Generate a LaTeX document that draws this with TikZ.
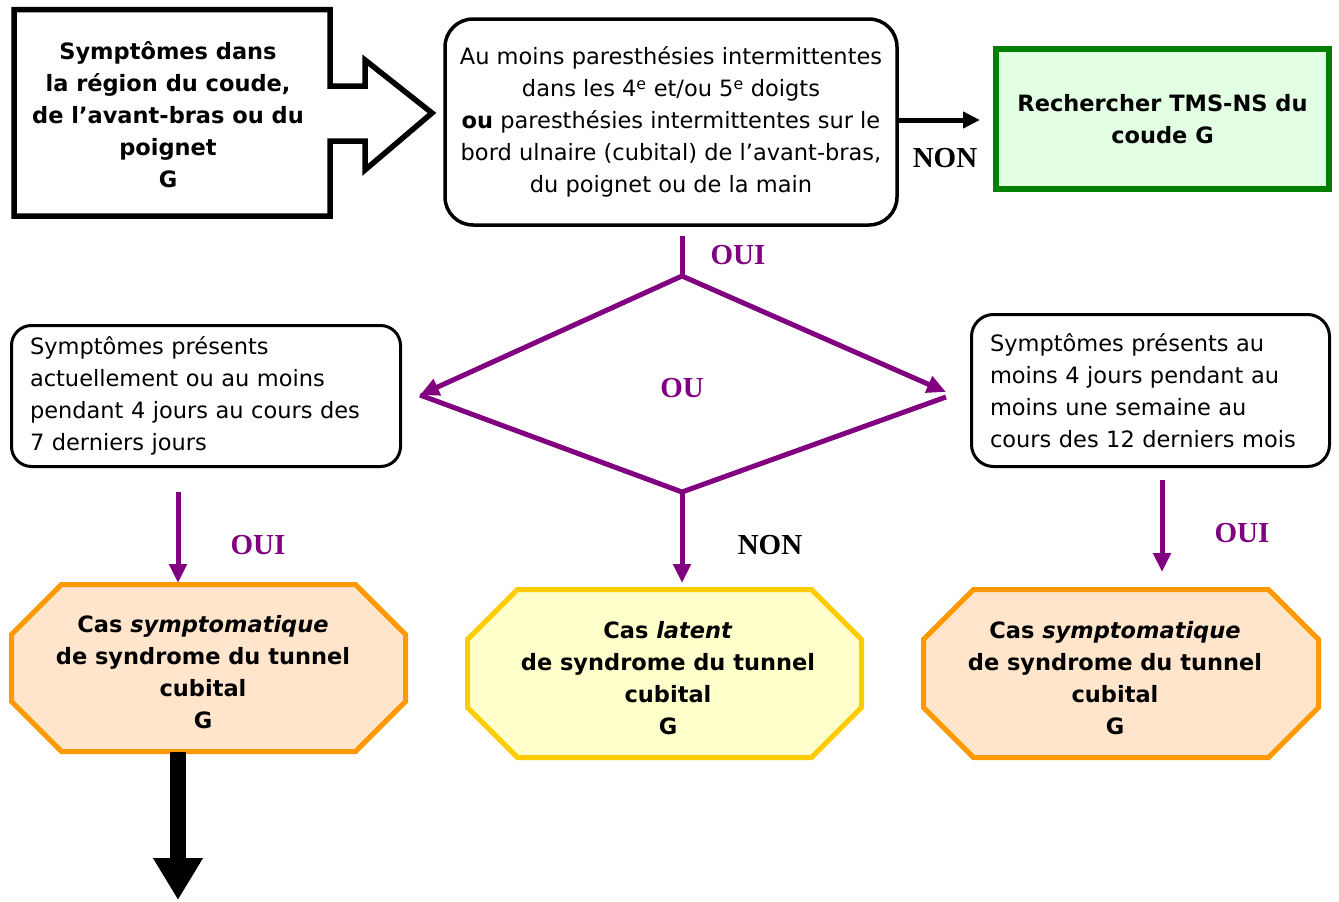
\documentclass[tikz,border=0pt]{standalone}
\usepackage{fontspec}
\setmainfont{DejaVu Sans}
\newfontfamily\lblfont{Liberation Serif}
\usetikzlibrary{arrows.meta}
\definecolor{purp}{HTML}{800080}
\definecolor{grnB}{HTML}{008000}
\definecolor{grnF}{HTML}{E3FFE3}
\definecolor{orgB}{HTML}{FF9900}
\definecolor{orgF}{HTML}{FFE5CC}
\definecolor{ylwB}{HTML}{FFCC00}
\definecolor{ylwF}{HTML}{FFFFCC}
\begin{document}
\begin{tikzpicture}[x=1pt,y=-1pt,
  txt/.style={font=\fontsize{22.5}{32}\selectfont, align=center, inner sep=0pt},
  boldtxt/.style={txt, font=\fontsize{22.5}{32}\selectfont\bfseries},
  lbl/.style={font=\lblfont\bfseries\fontsize{29}{32}\selectfont, inner sep=0pt},
  plbl/.style={lbl, text=purp},
  roundbox/.style={draw=black, line width=3.5pt, rounded corners=28pt, fill=white},
  octbox/.style={boldtxt, minimum width=394pt, minimum height=167pt},
  octorange/.style={draw=orgB, fill=orgF, line width=5pt},
  octyellow/.style={draw=ylwB, fill=ylwF, line width=5pt},
  pline/.style={draw=purp, line width=5pt},
  parr/.style={pline, -{Triangle[length=19pt,width=17pt]}},
  barr/.style={draw=black, line width=5pt, -{Triangle[length=17pt,width=16pt]}},
]
\useasboundingbox (0,0) rectangle (1339,902);

% top-left block arrow
\draw[line width=5.5pt, miter limit=10] (14,9.5) -- (330,9.5) -- (330,86) -- (365,86) -- (365,60)
  -- (432,113) -- (365,170) -- (365,141) -- (330,141) -- (330,216) -- (14,216) -- cycle;
\node[boldtxt] (S) at (168,115) {Symptômes dans\\la région du coude,\\de l’avant-bras ou du\\poignet\\G};

% top middle rounded box
\node[roundbox, txt, minimum width=452pt, minimum height=206pt] (Q) at (671,122)
  {Au moins paresthésies intermittentes\\dans les 4\textsuperscript{e} et/ou 5\textsuperscript{e} doigts\\\textbf{ou} paresthésies intermittentes sur le\\bord ulnaire (cubital) de l’avant-bras,\\du poignet ou de la main};

% green box
\node[boldtxt, draw=grnB, fill=grnF, line width=6pt, minimum width=333pt, minimum height=140pt] (G) at (1162.5,119)
  {Rechercher TMS-NS du\\coude G};

\coordinate (gIn) at (980,120);
\draw[barr] (Q.east |- gIn) -- (gIn);
\node[lbl] (non1) at (945,158) {NON};

% diamond
\coordinate (oS) at (682,236);
\coordinate (dT) at (682,276);
\coordinate (dL) at (420,395);
\coordinate (dB) at (682,492);
\coordinate (dR) at (946,392);
\coordinate (dR2) at (946,397);
\draw[pline] (oS) -- (dT);
\node[plbl] (oui0) at (738,255) {OUI};
\draw[pline, line join=round] (dL) -- (dB) -- (dR2);
\draw[parr] (dT) -- (dL);
\draw[parr] (dT) -- (dR);
\node[plbl] (ou) at (682,388) {OU};

% side boxes
\node[roundbox, rounded corners=20pt, line width=3pt, txt, align=left, text width=352pt,
  minimum width=389pt, minimum height=141pt] (A) at (206,396)
  {Symptômes présents\\actuellement ou au moins\\pendant 4 jours au cours des\\7 derniers jours};
\node[roundbox, rounded corners=22pt, line width=3pt, txt, align=left, text width=321pt,
  minimum width=358pt, minimum height=152pt] (B) at (1150.5,390.5)
  {Symptômes présents au\\moins 4 jours pendant au\\moins une semaine au\\cours des 12 derniers mois};

% octagons
\draw[octorange] (61.5,584.5) -- (355.5,584.5) -- (405.5,634.5) -- (405.5,701.5) -- (355.5,751.5)
  -- (61.5,751.5) -- (11.5,701.5) -- (11.5,634.5) -- cycle;
\node[octbox] (L) at (203,672) {Cas \textit{symptomatique}\\de syndrome du tunnel\\cubital\\G};

\draw[octyellow] (517.5,589.5) -- (811.5,589.5) -- (861.5,639.5) -- (861.5,707.5) -- (811.5,757.5)
  -- (517.5,757.5) -- (467.5,707.5) -- (467.5,639.5) -- cycle;
\node[octbox] (M) at (668,678) {Cas \textit{latent}\\de syndrome du tunnel\\cubital\\G};

\draw[octorange] (973.5,589.5) -- (1268.5,589.5) -- (1318.5,639.5) -- (1318.5,707.5) -- (1268.5,757.5)
  -- (973.5,757.5) -- (923.5,707.5) -- (923.5,639.5) -- cycle;
\node[octbox] (R) at (1115,678) {Cas \textit{symptomatique}\\de syndrome du tunnel\\cubital\\G};

% lower arrows
\coordinate (aL1) at (178,492);
\coordinate (aL2) at (178,583);
\draw[parr] (aL1) -- (aL2);
\node[plbl] (oui1) at (258,545) {OUI};

\coordinate (aM2) at (682,583);
\draw[parr] (dB) -- (aM2);
\node[lbl] (non2) at (770,545) {NON};

\coordinate (aR1) at (1162,480);
\coordinate (aR2) at (1162,572);
\draw[parr] (aR1) -- (aR2);
\node[plbl] (oui2) at (1242,533) {OUI};

% big black arrow
\coordinate (bA1) at (178,752);
\coordinate (bA2) at (178,900);
\draw[line width=16pt, -{Triangle[length=42pt,width=47pt]}] (bA1) -- (bA2);
\end{tikzpicture}
\end{document}
